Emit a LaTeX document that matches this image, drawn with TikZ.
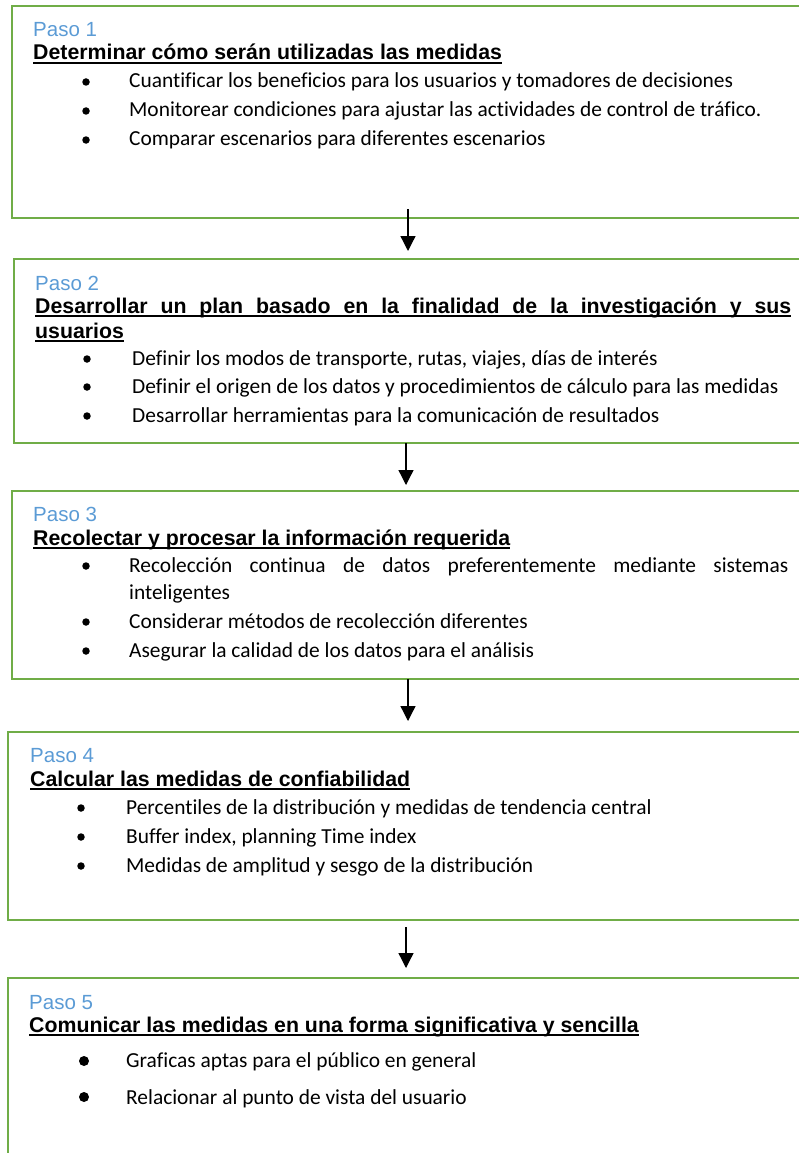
\documentclass[tikz,border=0pt]{standalone}
\usepackage{fontspec}
\setmainfont[Ligatures=NoCommon]{Carlito}
\newfontfamily\arialfont{Liberation Sans}
\usetikzlibrary{arrows.meta, positioning}
\definecolor{stepgreen}{HTML}{70AD47}
\definecolor{pasoblue}{HTML}{5B9BD5}
% underline at a fixed depth, crossing the descenders
\newcommand\ulword[1]{\setbox0\hbox{#1}\rlap{\vrule width\wd0 height -2.4pt depth 4.4pt}\box0}

\begin{document}
\begin{tikzpicture}[
        x=1pt, y=1pt,
        stepbox/.style={rectangle, draw=stepgreen, line width=2.7pt, minimum width=800pt, outer sep=0pt, inner sep=0pt, anchor=north west},
        pasolbl/.style={anchor=base west, inner sep=0pt, text=pasoblue, font=\arialfont\fontsize{20.5}{24}\selectfont},
        steptitle/.style={anchor=base west, inner sep=0pt, font=\arialfont\bfseries\fontsize{21.3}{25}\selectfont},
        itemtxt/.style={anchor=base west, inner sep=0pt, font=\fontsize{21.4}{25}\selectfont},
        dot/.style={circle, fill=black, inner sep=0pt, minimum size=7.5pt},
        arrow/.style={-{Triangle[length=15pt, width=15pt]}, line width=1.3pt, draw=black}
    ]
        \useasboundingbox (0,0) rectangle (798,-1153);

        % the five steps
        \node[stepbox, minimum height=212pt] (box1) at (12,-6) {};
        \node[stepbox, minimum height=184pt, below=41pt of box1.south west, anchor=north west, xshift=2pt] (box2) {};
        \node[stepbox, minimum height=188pt, below=48pt of box2.south west, anchor=north west, xshift=-2pt] (box3) {};
        \node[stepbox, minimum height=188pt, below=53pt of box3.south west, anchor=north west, xshift=-4pt] (box4) {};
        \node[stepbox, minimum height=200pt, below=58pt of box4.south west, anchor=north west] (box5) {};

        % Paso 1
        \node[pasolbl] (paso1) at ([shift={(21,-31)}]box1.north west) {Paso 1};
        \node[steptitle] (title1) at ([shift={(21,-54)}]box1.north west) {\ulword{Determinar cómo serán utilizadas las medidas}};
        \node[dot] (dot11) at ([shift={(74,-76)}]box1.north west) {};
        \node[dot] (dot12) at ([shift={(74,-105)}]box1.north west) {};
        \node[dot] (dot13) at ([shift={(74,-134)}]box1.north west) {};
        \node[itemtxt] (item11) at ([shift={(117,-82)}]box1.north west) {Cuantificar los beneficios para los usuarios y tomadores de decisiones};
        \node[itemtxt] (item12) at ([shift={(117,-111)}]box1.north west) {Monitorear condiciones para ajustar las actividades de control de tráfico.};
        \node[itemtxt] (item13) at ([shift={(117,-140)}]box1.north west) {Comparar escenarios para diferentes escenarios};

        % Paso 2
        \node[pasolbl] (paso2) at ([shift={(21,-31)}]box2.north west) {Paso 2};
        \node[steptitle] (title2a) at ([shift={(21,-54)}]box2.north west) {\ulword{\makebox[756pt][s]{Desarrollar un plan basado en la finalidad de la investigación y sus}}};
        \node[steptitle] (title2b) at ([shift={(21,-79)}]box2.north west) {\ulword{usuarios}};
        \node[dot] (dot21) at ([shift={(73,-100)}]box2.north west) {};
        \node[dot] (dot22) at ([shift={(73,-128)}]box2.north west) {};
        \node[dot] (dot23) at ([shift={(73,-157)}]box2.north west) {};
        \node[itemtxt] (item21) at ([shift={(118,-106)}]box2.north west) {Definir los modos de transporte, rutas, viajes, días de interés};
        \node[itemtxt] (item22) at ([shift={(118,-134)}]box2.north west) {Definir el origen de los datos y procedimientos de cálculo para las medidas};
        \node[itemtxt] (item23) at ([shift={(118,-163)}]box2.north west) {Desarrollar herramientas para la comunicación de resultados};

        % Paso 3
        \node[pasolbl] (paso3) at ([shift={(21,-30)}]box3.north west) {Paso 3};
        \node[steptitle] (title3) at ([shift={(21,-54)}]box3.north west) {\ulword{Recolectar y procesar la información requerida}};
        \node[dot] (dot31) at ([shift={(74,-75)}]box3.north west) {};
        \node[dot] (dot32) at ([shift={(74,-131)}]box3.north west) {};
        \node[dot] (dot33) at ([shift={(74,-160)}]box3.north west) {};
        \node[itemtxt] (item31a) at ([shift={(117,-81)}]box3.north west) {\makebox[659pt][s]{Recolección continua de datos preferentemente mediante sistemas}};
        \node[itemtxt] (item31b) at ([shift={(117,-108)}]box3.north west) {inteligentes};
        \node[itemtxt] (item32) at ([shift={(117,-137)}]box3.north west) {Considerar métodos de recolección diferentes};
        \node[itemtxt] (item33) at ([shift={(117,-166)}]box3.north west) {Asegurar la calidad de los datos para el análisis};

        % Paso 4
        \node[pasolbl] (paso4) at ([shift={(22,-30)}]box4.north west) {Paso 4};
        \node[steptitle] (title4) at ([shift={(22,-54)}]box4.north west) {\ulword{Calcular las medidas de confiabilidad}};
        \node[dot] (dot41) at ([shift={(73,-76)}]box4.north west) {};
        \node[dot] (dot42) at ([shift={(73,-105)}]box4.north west) {};
        \node[dot] (dot43) at ([shift={(73,-134)}]box4.north west) {};
        \node[itemtxt] (item41) at ([shift={(118,-82)}]box4.north west) {Percentiles de la distribución y medidas de tendencia central};
        \node[itemtxt] (item42) at ([shift={(118,-111)}]box4.north west) {Buffer index, planning Time index};
        \node[itemtxt] (item43) at ([shift={(118,-140)}]box4.north west) {Medidas de amplitud y sesgo de la distribución};

        % Paso 5
        \node[pasolbl] (paso5) at ([shift={(21,-31)}]box5.north west) {Paso 5};
        \node[steptitle] (title5) at ([shift={(21,-54)}]box5.north west) {\ulword{Comunicar las medidas en una forma significativa y sencilla}};
        \node[dot, minimum size=10pt] (dot51) at ([shift={(76,-83)}]box5.north west) {};
        \node[dot, minimum size=10pt] (dot52) at ([shift={(76,-119)}]box5.north west) {};
        \node[itemtxt] (item51) at ([shift={(118,-89)}]box5.north west) {Graficas aptas para el público en general};
        \node[itemtxt] (item52) at ([shift={(118,-126)}]box5.north west) {Relacionar al punto de vista del usuario};

        \draw[arrow] ([xshift=-4pt, yshift=9pt]box1.south) -- ([xshift=-6pt, yshift=8pt]box2.north);
        \draw[arrow] ([xshift=-8pt]box2.south) -- ([xshift=-6pt, yshift=6pt]box3.north);
        \draw[arrow] ([xshift=-4pt]box3.south) -- ([yshift=11pt]box4.north);
        \draw[arrow] ([xshift=-2pt, yshift=-7pt]box4.south) -- ([xshift=-2pt, yshift=10pt]box5.north);
    \end{tikzpicture}
\end{document}
